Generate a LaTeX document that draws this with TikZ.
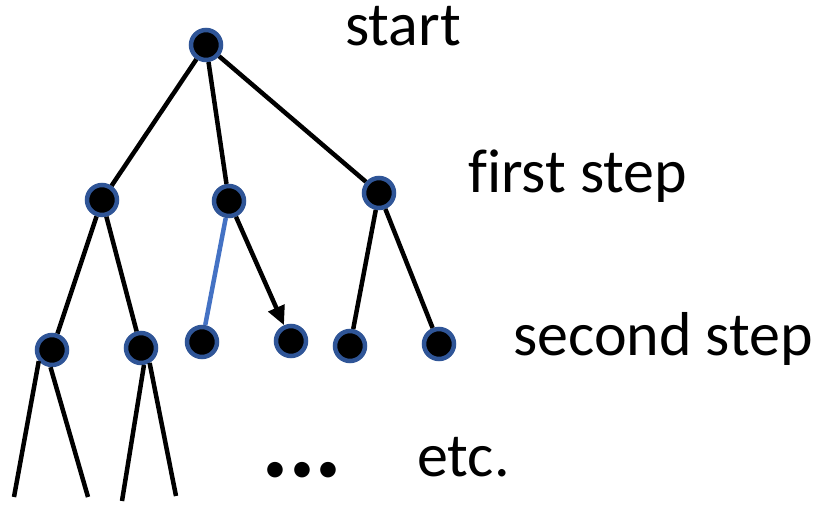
\documentclass[tikz,border=0pt]{standalone}
\usepackage{fontspec}
\setmainfont{Carlito}[Ligatures=CommonOff]
\usepackage{xcolor}
\usetikzlibrary{arrows.meta}
\definecolor{ringblue}{HTML}{2F5597}
\definecolor{pathblue}{HTML}{4472C4}

\begin{document}
\begin{tikzpicture}[
  x=1pt,y=-1pt,
  state/.style={circle,draw=ringblue,fill=black,line width=4.5pt,minimum size=30pt,inner sep=0pt},
  edge/.style={line width=4.5pt,draw=black},
  chosen/.style={line width=4.5pt,draw=pathblue},
  move/.style={-{Triangle[length=19pt,width=17pt]},line width=4.5pt,draw=black},
  lbl/.style={anchor=base west,font=\fontsize{62}{70}\selectfont,inner sep=0pt}
]
\useasboundingbox (0,0) rectangle (833,505);
% tree nodes
\node[state] (root) at (206,45) {};
\node[state] (fa) at (102,200) {};
\node[state] (fb) at (229,201) {};
\node[state] (fc) at (379,193) {};
\node[state] (sa) at (52,350) {};
\node[state] (sb) at (141,348) {};
\node[state] (sc) at (202,342) {};
\node[state] (sd) at (291,341) {};
\node[state] (se) at (350,346) {};
\node[state] (sf) at (439,344) {};
% loose branch ends
\coordinate (ta) at (14,497);
\coordinate (tb) at (88,497);
\coordinate (tc) at (122,501);
\coordinate (td) at (176,496);
% branches
\draw[edge] (root)--(fa); \draw[edge] (root)--(fb); \draw[edge] (root)--(fc);
\draw[edge] (fa)--(sa); \draw[edge] (fa)--(sb);
\draw[chosen] (fb)--(sc); \draw[move] (fb)--(sd);
\draw[edge] (fc)--(se); \draw[edge] (fc)--(sf);
\draw[edge] (sa.220)--(ta); \draw[edge] (sa.265)--(tb);
\draw[edge] (sb.280)--(tc); \draw[edge] (sb.300)--(td);
% level labels
\node[lbl] (tstart) at (345,46) {start};
\node[lbl] (tfirst) at (468,193) {first step};
\node[lbl] (tsecond) at (513,355) {second step};
\node[lbl] (tetc) at (417,476) {etc.};
\node[anchor=base,font=\fontsize{44}{50}\selectfont,inner sep=0pt] (tdots) at (302,482) {•\kern5pt•\kern5pt•};
\end{tikzpicture}
\end{document}
